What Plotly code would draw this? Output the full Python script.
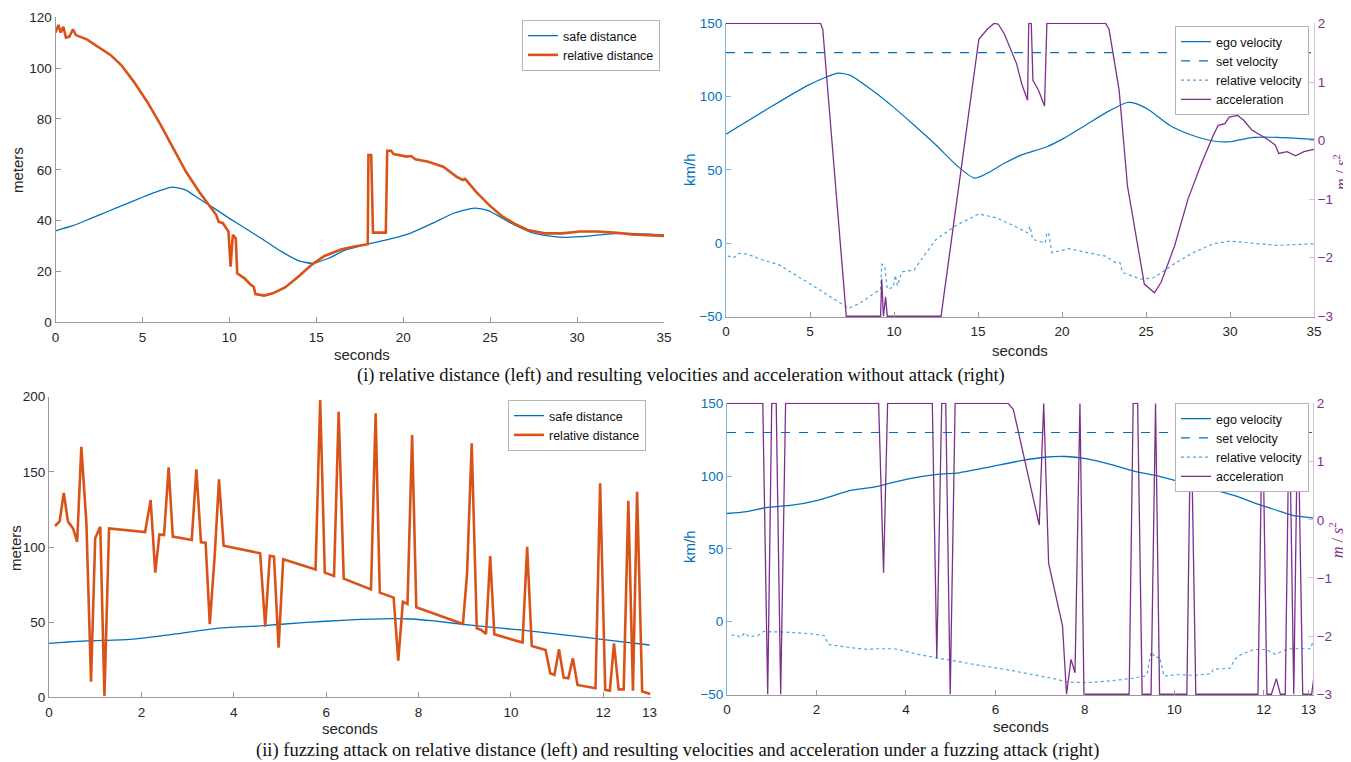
import plotly.graph_objects as go

# page body adds an 8px margin, so the figure is laid out in screen pixels minus that offset
OFF = 8
W, H = 1351 - OFF, 762 - OFF

# ---------------- (i) no attack: distances ----------------
sd1_t = [0, 1, 2, 3, 4, 5, 6, 6.7, 7.5, 8, 9, 10, 11, 12, 13, 14, 14.8, 15.7, 16.7, 18, 19.2,
         20.4, 21.7, 22.9, 24.1, 24.9, 26.2, 27.4, 28.7, 29.2, 30.2, 31.6, 32.9, 35]
sd1_v = [36, 38, 40.8, 43.6, 46.4, 49.2, 51.8, 53.2, 52.0, 49.8, 45.4, 40.9, 36.6, 32.3, 27.8,
         24.2, 23.2, 25.2, 28.5, 30.8, 32.7, 35, 39, 42.9, 44.9, 43.9, 39, 35.3, 33.7, 33.4,
         33.7, 34.6, 35, 34.4]

rd1_t = [0, 0.17, 0.3, 0.45, 0.6, 0.8, 1.0, 1.17, 1.8, 2.54, 3.16, 3.78, 4.5, 5.27, 6.0, 6.77,
         7.5, 8.26, 8.76, 9.25, 9.38, 9.63, 9.95, 10.07, 10.2, 10.37, 10.45, 10.87, 11.24, 11.4,
         11.5, 12.0, 12.5, 13.23, 13.98, 14.73, 15.47, 16.47, 17.2, 17.96, 18.0, 18.16, 18.26,
         19.0, 19.08, 19.3, 19.45, 20.2, 20.45, 20.7, 21.44, 22.3, 23.06, 23.43, 23.56, 24.18,
         24.93, 25.67, 26.42, 27.16, 28.16, 29.15, 30.15, 31.14, 32.14, 33.13, 35]
rd1_v = [114, 117, 114, 116.3, 112, 112.4, 115.3, 113, 111.3, 107.8, 105.2, 101.2, 94.7, 86.8,
         78.3, 68.5, 59.3, 51.4, 46.8, 42.2, 39.6, 39, 35.7, 21.9, 34.4, 33, 19.3, 17.3, 14.7,
         14, 11.1, 10.5, 11.4, 13.8, 18, 22.6, 26.1, 28.7, 29.8, 30.7, 65.8, 65.8, 35.3, 35.3,
         67.5, 67.5, 66.2, 65.2, 65.4, 64.1, 63.2, 61.2, 57.3, 56, 56.4, 51.4, 46.2, 41.8, 38.7,
         36.3, 35, 35, 35.7, 35.7, 35.3, 34.6, 34]

# ---------------- (i) no attack: velocities ----------------
ego1_t = [0, 2.34, 4.87, 6.65, 7.4, 8.7, 9.95, 11.2, 12.5, 13.8, 14.8, 15.55, 16.57, 17.6,
          19.1, 20.1, 21.4, 22.7, 23.9, 24.4, 25.2, 26.4, 27.7, 29.0, 30.0, 31.3, 32.8, 35]
ego1_v = [74.4, 90.7, 107.7, 116, 114.5, 104.3, 93, 80.5, 67, 52.3, 44.3, 47.7, 54.5, 60.2,
          65.8, 71.5, 80.5, 89.6, 96, 95.2, 90.7, 80.5, 73.8, 69.7, 69.2, 72, 72.2, 70.8]
set_velocity = 130

rv1_t = [0.1, 0.45, 0.8, 1.3, 2.34, 3.1, 4.87, 6.15, 7.3, 7.9, 9.2, 9.27, 9.45, 9.6, 9.95,
         10.08, 10.2, 10.46, 11.2, 11.5, 12.5, 13.8, 15.05, 16.1, 17.1, 17.95, 18.1, 18.25,
         19.0, 19.1, 19.2, 19.4, 20.4, 21.7, 22.55, 23.2, 23.45, 23.6, 24.7, 25.5, 26.8, 27.8,
         29.0, 30.0, 31.3, 32.8, 35]
rv1_v = [-8.8, -10, -7, -7.7, -12.2, -14.5, -26.9, -36, -44.6, -41.6, -31.4, -14.5, -15.6,
         -31.4, -30.3, -22, -29.2, -19.7, -18.3, -13.3, 2.5, 12.7, 19.9, 17.2, 12, 7, 11.5, 2.5,
         0.2, 7, 7, -6.6, -3.8, -7, -8.8, -13.3, -13.3, -20.1, -24.7, -23.5, -13.3, -6.6, -0.5,
         1.3, -0.2, -1.6, -0.5]

acc1_t = [0, 5.63, 5.76, 7.16, 9.2, 9.27, 9.37, 9.5, 9.6, 12.8, 15.05, 15.55, 15.95, 16.2,
          16.57, 16.95, 17.3, 17.6, 17.95, 18.02, 18.17, 18.27, 18.6, 18.96, 19.1, 22.6, 22.8,
          23.4, 23.9, 24.9, 25.5, 25.9, 26.7, 27.5, 28.3, 29.05, 29.3, 29.7, 29.95, 30.45, 30.8,
          31.3, 31.9, 32.3, 32.7, 32.9, 33.4, 33.9, 34.4, 35]
acc1_v = [2, 2, 1.9, -3, -3, -2.37, -3, -2.67, -3, -3, 1.73, 1.9, 2, 1.99, 1.82, 1.54, 1.31,
          0.97, 0.69, 2, 2, 1.03, 0.86, 0.59, 2, 2, 1.9, 0.86, -0.78, -2.45, -2.6, -2.42, -1.8,
          -1.0, -0.39, 0.12, 0.26, 0.29, 0.4, 0.43, 0.35, 0.18, 0.07, 0.01, -0.08, -0.22, -0.19,
          -0.26, -0.19, -0.15]

# ---------------- (ii) fuzzing: distances ----------------
sd2_t = [0, 0.82, 1.76, 2.7, 3.63, 4.57, 5.5, 6.45, 7.4, 7.86, 8.33, 9.27, 10.2, 11.15, 12.1, 13.0]
sd2_v = [35.9, 37.5, 38.6, 42, 45.9, 47.5, 49.7, 51.4, 52.3, 52.1, 50.8, 47.5, 44.8, 41.5, 38.1, 34.8]

rd2_t = [0.13, 0.23, 0.32, 0.41, 0.52, 0.61, 0.7, 0.81, 0.91, 1.0, 1.11, 1.2, 1.3, 2.08, 2.2,
         2.3, 2.39, 2.49, 2.59, 2.68, 3.09, 3.19, 3.29, 3.39, 3.48, 3.59, 3.68, 3.78, 4.57, 4.68,
         4.78, 4.87, 4.97, 5.07, 5.77, 5.87, 5.97, 6.17, 6.27, 6.38, 6.97, 7.07, 7.16, 7.46,
         7.56, 7.66, 7.76, 7.86, 7.95, 8.96, 9.05, 9.15, 9.26, 9.36, 9.46, 9.55, 9.64, 10.25,
         10.35, 10.45, 10.75, 10.85, 10.94, 11.04, 11.14, 11.24, 11.34, 11.44, 11.83, 11.93,
         12.04, 12.14, 12.23, 12.33, 12.44, 12.54, 12.64, 12.73, 12.84, 13.02]
rd2_v = [114, 117, 136, 117, 112.4, 103.5, 166.7, 115.7, 10.4, 105.8, 113.5, 0.9, 112.4, 110,
         131.3, 82.9, 108.4, 108, 153, 106.9, 104.7, 151.7, 103.1, 102.9, 48.6, 95.8, 145,
         100.9, 95.8, 47, 94.2, 93.6, 33, 91.8, 85.1, 197.8, 82.9, 80.7, 190, 78.9, 71.8, 188.9,
         69.6, 66.3, 24.4, 63.6, 62.1, 174.5, 59.9, 48.8, 82.5, 169, 45.9, 44.8, 42.1, 94, 41.9,
         36.4, 100.2, 34.1, 31.5, 16, 14.9, 31.9, 13.1, 12.6, 25.9, 8.2, 6, 142.4, 4.9, 4.4, 35.9,
         5.3, 5.3, 130.8, 4.4, 136.8, 3.8, 2.2]

# ---------------- (ii) fuzzing: velocities ----------------
ego2_t = [0, 0.4, 0.88, 1.45, 2.03, 2.79, 3.37, 4.03, 4.7, 5.18, 5.85, 6.6, 7.1, 7.57, 8.05,
          8.53, 9.1, 9.58, 9.96, 10.44, 10.92, 11.4, 11.87, 12.35, 12.64, 13.1]
ego2_v = [74.3, 75.4, 78.4, 80, 83.4, 90.3, 93, 98, 101.2, 102.3, 106.2, 110.8, 113, 113.5,
          111.9, 108.5, 103.5, 100.5, 97.5, 94.4, 90.3, 86.1, 80.7, 75.9, 73.1, 71.3]

rv2_t = [0.1, 0.2, 0.3, 0.4, 0.5, 0.69, 0.83, 0.98, 1.21, 1.84, 2.17, 2.27, 2.79, 3.17, 3.3,
         3.75, 4.32, 5.09, 5.66, 6.23, 6.8, 7.38, 7.57, 8.05, 8.53, 9.0, 9.34, 9.39, 9.48, 9.58,
         9.67, 9.77, 10.06, 10.44, 10.82, 10.87, 11.25, 11.35, 11.49, 11.78, 12.06, 12.26, 12.54,
         13.05, 13.1]
rv2_v = [-9.4, -9.2, -10.8, -7.8, -10.5, -9.6, -6.7, -7.1, -7.1, -8.3, -9.6, -15.8, -18,
         -19.2, -18.7, -18.7, -22.9, -27.2, -30.2, -32.9, -36.5, -39.7, -41.6, -42, -40.9,
         -39.3, -37.5, -36.3, -21, -24.9, -24.2, -37.5, -36.5, -37, -35.9, -32.9, -32, -26,
         -22.6, -19.2, -19.2, -22.6, -18.7, -18.7, -13.5]

acc2_t = [0, 0.8, 0.91, 1.0, 1.1, 1.2, 1.31, 3.39, 3.5, 3.59, 4.59, 4.69, 4.8, 4.89, 4.99,
          5.1, 6.28, 6.4, 6.98, 7.08, 7.19, 7.38, 7.5, 7.59, 7.69, 7.78, 7.89, 7.98, 8.99, 9.08,
          9.18, 9.28, 9.48, 9.58, 9.67, 10.28, 10.37, 10.48, 11.87, 11.97, 12.07, 12.17, 12.28,
          12.37, 12.48, 12.57, 12.67, 12.76, 12.87, 13.07, 13.12]
acc2_v = [2, 2, -3, 2, 2, -3, 2, 2, -0.91, 2, 2, -2.39, 2, 2, -3, 2, 2, 1.9, -0.09, 2, -0.75,
          -1.38, -1.82, -3, -2.4, -2.63, 2, -3, -3, 2, 2, -3, -3, 2, -3, -3, 2, -3, -3, 2, -3,
          -3, -2.73, -3, -3, 2, -3, 2, -3, -3, -2.7]

captions = [
    "(i) relative distance (left) and resulting velocities and acceleration without attack (right)",
    "(ii) fuzzing attack on relative distance (left) and resulting velocities and acceleration under a fuzzing attack (right)",
]

BLUE = "#0072BD"
ORANGE = "#D95319"
LBLUE = "#4DA3DF"
PURPLE = "#7E2F8E"
DARK = "#262626"
SANS = "Liberation Sans, Arial, sans-serif"
SERIF = "Liberation Serif, Times New Roman, serif"


def fx(a):
    return (a - OFF) / W


def fy(a):
    return 1 - (a - OFF) / H


def px_x(a, b):
    return [fx(a), fx(b)]


def px_y(top, bottom):
    return [fy(bottom), fy(top)]


fig = go.Figure()

# TL
fig.add_trace(go.Scatter(x=sd1_t, y=sd1_v, name="safe distance", mode="lines",
                         line=dict(color=BLUE, width=1.3, shape="spline", smoothing=0.6),
                         xaxis="x", yaxis="y", legend="legend"))
fig.add_trace(go.Scatter(x=rd1_t, y=rd1_v, name="relative distance", mode="lines",
                         line=dict(color=ORANGE, width=2.6),
                         xaxis="x", yaxis="y", legend="legend"))
# TR
fig.add_trace(go.Scatter(x=ego1_t, y=ego1_v, name="ego velocity", mode="lines",
                         line=dict(color=BLUE, width=1.2, shape="spline", smoothing=0.6),
                         xaxis="x2", yaxis="y2", legend="legend2"))
fig.add_trace(go.Scatter(x=[0, 35], y=[set_velocity, set_velocity], name="set velocity", mode="lines",
                         line=dict(color=BLUE, width=1.2, dash="dash"),
                         xaxis="x2", yaxis="y2", legend="legend2"))
fig.add_trace(go.Scatter(x=rv1_t, y=rv1_v, name="relative velocity", mode="lines",
                         line=dict(color=LBLUE, width=1.2, dash="dot"),
                         xaxis="x2", yaxis="y2", legend="legend2"))
fig.add_trace(go.Scatter(x=acc1_t, y=acc1_v, name="acceleration", mode="lines",
                         line=dict(color=PURPLE, width=1.3),
                         xaxis="x2", yaxis="y3", legend="legend2"))
# BL
fig.add_trace(go.Scatter(x=sd2_t, y=sd2_v, name="safe distance", mode="lines",
                         line=dict(color=BLUE, width=1.3, shape="spline", smoothing=0.6),
                         xaxis="x3", yaxis="y4", legend="legend3"))
fig.add_trace(go.Scatter(x=rd2_t, y=rd2_v, name="relative distance", mode="lines",
                         line=dict(color=ORANGE, width=2.6),
                         xaxis="x3", yaxis="y4", legend="legend3"))
# BR
fig.add_trace(go.Scatter(x=ego2_t, y=ego2_v, name="ego velocity", mode="lines",
                         line=dict(color=BLUE, width=1.3, shape="spline", smoothing=0.6),
                         xaxis="x4", yaxis="y5", legend="legend4"))
fig.add_trace(go.Scatter(x=[0, 13.1], y=[set_velocity, set_velocity], name="set velocity", mode="lines",
                         line=dict(color=BLUE, width=1.2, dash="dash"),
                         xaxis="x4", yaxis="y5", legend="legend4"))
fig.add_trace(go.Scatter(x=rv2_t, y=rv2_v, name="relative velocity", mode="lines",
                         line=dict(color=LBLUE, width=1.2, dash="dot"),
                         xaxis="x4", yaxis="y5", legend="legend4"))
fig.add_trace(go.Scatter(x=acc2_t, y=acc2_v, name="acceleration", mode="lines",
                         line=dict(color=PURPLE, width=1.3),
                         xaxis="x4", yaxis="y6", legend="legend4"))

tick_font = dict(family=SANS, size=13.5, color=DARK)


def xax(domain, rng, tickvals, anchor):
    return dict(domain=domain, range=rng, tickvals=tickvals, anchor=anchor,
                showline=True, linecolor="#9a9a9a", linewidth=1, ticks="inside",
                ticklen=5, tickcolor="#9a9a9a", showgrid=False, zeroline=False,
                tickfont=tick_font, fixedrange=True, automargin=False, ticklabelstandoff=2)


def yax(domain, rng, tickvals, anchor, color="#9a9a9a", fcolor=DARK, **kw):
    d = dict(domain=domain, range=rng, tickvals=tickvals, anchor=anchor,
             showline=True, linecolor=color, linewidth=1, ticks="inside",
             ticklen=5, tickcolor=color, showgrid=False, zeroline=False,
             tickfont=dict(family=SANS, size=13.5, color=fcolor), fixedrange=True,
             automargin=False)
    d.update(kw)
    return d


legend_common = dict(bgcolor="white", bordercolor="#b5b5b5", borderwidth=1,
                     font=dict(family=SANS, size=12.5, color="#111111"),
                     xanchor="right", yanchor="top", itemwidth=30, tracegroupgap=0)

fig.update_layout(
    template="none",
    width=W, height=H, margin=dict(l=0, r=0, t=0, b=0, autoexpand=False),
    paper_bgcolor="white", plot_bgcolor="white",
    xaxis=xax(px_x(55.5, 664), [0, 35], [0, 5, 10, 15, 20, 25, 30, 35], "y"),
    yaxis=yax(px_y(17.3, 322.3), [0, 120], [0, 20, 40, 60, 80, 100, 120], "x"),
    xaxis2=xax(px_x(726, 1314), [0, 35], [0, 5, 10, 15, 20, 25, 30, 35], "y2"),
    yaxis2=yax(px_y(22.7, 317), [-50.5, 150.5], [-50, 0, 50, 100, 150], "x2",
               color="#7fb3dc", fcolor=BLUE),
    yaxis3=yax(px_y(22.7, 317), [-3.0125, 2.0125], [-3, -2, -1, 0, 1, 2], "x2",
               color="#d6bfdc", fcolor=PURPLE, overlaying="y2", side="right"),
    xaxis3=xax(px_x(49, 650.5), [0, 13.02], [0, 2, 4, 6, 8, 10, 12, 13], "y4"),
    yaxis4=yax(px_y(396.7, 697.3), [0, 200], [0, 50, 100, 150, 200], "x3"),
    xaxis4=xax(px_x(727, 1313), [0, 13.1], [0, 2, 4, 6, 8, 10, 12, 13], "y5"),
    yaxis5=yax(px_y(402.7, 695), [-50.5, 150.5], [-50, 0, 50, 100, 150], "x4",
               color="#7fb3dc", fcolor=BLUE),
    yaxis6=yax(px_y(402.7, 695), [-3.0125, 2.0125], [-3, -2, -1, 0, 1, 2], "x4",
               color="#d6bfdc", fcolor=PURPLE, overlaying="y5", side="right"),
    legend=dict(x=fx(660), y=fy(20), **legend_common),
    legend2=dict(x=fx(1309), y=fy(26), **legend_common),
    legend3=dict(x=fx(646), y=fy(400), **legend_common),
    legend4=dict(x=fx(1309), y=fy(403), **legend_common),
    showlegend=True,
)

ann = []


def label(text, x, y, angle=0, size=15, color=DARK, family=SANS):
    ann.append(dict(text=text, x=fx(x), y=fy(y), xref="paper", yref="paper",
                    showarrow=False, textangle=angle, xanchor="center", yanchor="middle",
                    font=dict(family=family, size=size, color=color)))


# axis titles
label("meters", 17, 170, -90)
label("seconds", 362, 354)
label("km/h", 689, 170, -90, color=BLUE)
label("seconds", 1020, 350)
label("<i>m</i> / <i>s</i><sup>2</sup>", 1340, 172, -90, size=16, color=PURPLE, family=SERIF)
label("meters", 15, 548, -90)
label("seconds", 350, 728)
label("km/h", 689, 547, -90, color=BLUE)
label("seconds", 1021, 726)
label("<i>m</i> / <i>s</i><sup>2</sup>", 1336, 540, -90, size=16, color=PURPLE, family=SERIF)
# captions
label(captions[0], 681, 376, size=18.5, color="#111111", family=SERIF)
label(captions[1], 677, 750.5, size=18.5, color="#111111", family=SERIF)

fig.update_layout(annotations=ann)

fig.write_html("out.html")
